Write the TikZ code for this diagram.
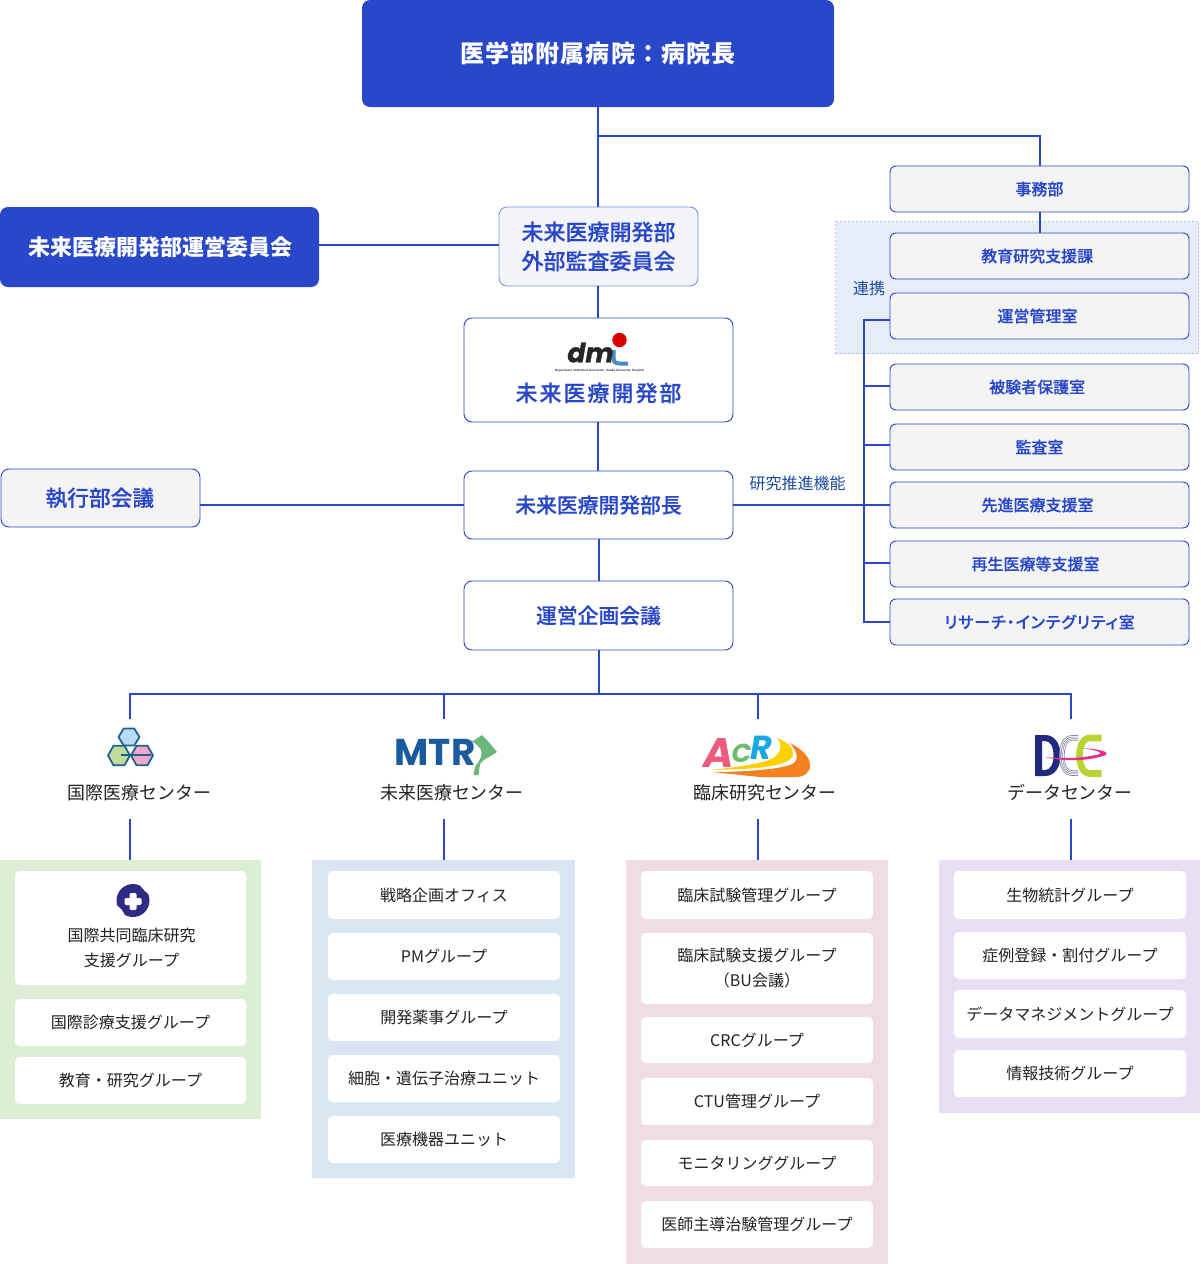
\documentclass[tikz,border=0pt]{standalone}
\usepackage{fontspec}
\setmainfont{Noto Sans CJK JP}
\newfontfamily\jpmed[FakeBold=0.3]{Noto Sans CJK JP Medium}
\newfontfamily\latinf{Liberation Sans}
\newfontfamily\heavyf{Poppins}
\definecolor{mainblue}{HTML}{2947C9}
\definecolor{navylab}{HTML}{1D4A9E}
\definecolor{greybox}{HTML}{F4F4F4}
\definecolor{extbox}{HTML}{F3F5FA}
\definecolor{bandblue}{HTML}{E6EDF8}
\definecolor{pgreen}{HTML}{DCEFD4}
\definecolor{pblue}{HTML}{D9E5F2}
\definecolor{ppink}{HTML}{F0DCE3}
\definecolor{ppurple}{HTML}{E8DFF5}
\definecolor{inkdark}{HTML}{222222}
\definecolor{hexline}{HTML}{1F5F8F}
\newcommand{\fs}[2]{\fontsize{#1}{#2}\selectfont}
\newcommand{\bx}[6]{%
  \pgfmathsetmacro{\bw}{(#5-#3)*.75}\pgfmathsetmacro{\bh}{(#6-#4)*.75}%
  \pgfmathsetmacro{\cx}{(#5+#3)/2}\pgfmathsetmacro{\cy}{(#6+#4)/2}%
  \node[#1,minimum width=\bw pt,minimum height=\bh pt] (#2) at (\cx,\cy)}
\tikzset{
  basebox/.style={rounded corners=6pt,inner sep=0pt,outer sep=0pt,align=center,line width=.7pt},
  solidbox/.style={basebox,fill=mainblue,text=white,font=\bfseries\fs{18}{24}},
  whitebox/.style={basebox,draw=mainblue,fill=white,text=mainblue,font=\jpmed\fs{15.6}{20}},
  extcom/.style={basebox,draw=mainblue!60,fill=extbox,text=mainblue,font=\jpmed\fs{16.5}{21.8}},
  sidebox/.style={basebox,draw=mainblue,fill=greybox,text=mainblue,font=\jpmed\fs{16.3}{20}},
  rightbox/.style={basebox,rounded corners=4.5pt,draw=mainblue,fill=greybox,text=mainblue,font=\jpmed\fs{12}{16}},
  panelbox/.style={inner sep=0pt,outer sep=0pt},
  cardbox/.style={basebox,rounded corners=3.5pt,fill=white,text=inkdark,font=\fs{12}{18.75}},
  label/.style={inner sep=0pt,outer sep=0pt},
  centerlab/.style={label,text=inkdark,font=\fs{13.45}{18}},
  sidelab/.style={label,text=navylab,font=\fs{12}{16}},
  conn/.style={draw=mainblue,line width=1.5pt},
}
\begin{document}
\begin{tikzpicture}[x=.75pt,y=-.75pt]
\useasboundingbox (0,0) rectangle (1200,1264);
% liaison band
\bx{panelbox,fill=bandblue,draw=mainblue!35,dashed,dash pattern=on 1.5pt off 1.5pt,line width=.6pt}{band}{835.5}{221.5}{1198.5}{353.5}{};
% lower panels
\bx{panelbox,fill=pgreen}{pg}{0}{860}{261}{1119}{};
\bx{panelbox,fill=pblue}{pb}{312}{860}{575}{1178}{};
\bx{panelbox,fill=ppink}{pp}{626}{860}{888}{1264}{};
\bx{panelbox,fill=ppurple}{pu}{939}{860}{1200}{1113}{};
% top column
\bx{solidbox}{title}{362}{0}{834}{107}{\raisebox{.75pt}{\addfontfeature{LetterSpace=4.6}医学部附属病院：病院長}};
\bx{solidbox,font=\bfseries\fs{16.5}{22}}{steer}{0}{207}{319}{287}{\raisebox{.75pt}{未来医療開発部運営委員会}\kern-1.2pt};
\bx{extcom}{ext}{499}{207}{698}{286}{未来医療開発部\\外部監査委員会};
\bx{whitebox}{dmi}{464}{318}{733}{422}{};
\bx{whitebox}{chief}{464}{471}{733}{539}{\raisebox{-.75pt}{未来医療開発部長}};
\bx{whitebox}{plan}{464}{581}{733}{650}{\raisebox{-.75pt}{運営企画会議}};
\bx{sidebox}{exec}{1}{469}{200}{527}{執行部会議\kern1pt};
% right column
\bx{rightbox}{r1}{890}{166}{1189}{212}{事務部};
\bx{rightbox}{r2}{890}{233}{1189}{279}{教育研究支援課\kern3.5pt};
\bx{rightbox}{r3}{890}{293}{1189}{339}{運営管理室\kern3pt};
\bx{rightbox}{r4}{890}{364}{1189}{410}{被験者保護室\kern3.5pt};
\bx{rightbox}{r5}{890}{424}{1189}{470}{監査室};
\bx{rightbox}{r6}{890}{482}{1189}{528}{先進医療支援室\kern3pt};
\bx{rightbox}{r7}{890}{541}{1189}{587}{再生医療等支援室\kern6pt};
\bx{rightbox}{r8}{890}{599}{1189}{645}{\addfontfeature{RawFeature=+palt,LetterSpace=6}リサーチ・インテグリティ室};
\node[sidelab] (renkei) at (869,288) {連携};
\node[sidelab] (suishin) at (797.5,483) {研究推進機能};
% dmi logo
\fill[red!85!black] (619.5,340) circle[radius=7.2];
\draw[color={rgb,255:red,74;green,134;blue,200},line width=3pt,line cap=butt] (613.5,350) -- (613.5,358) .. controls (613.5,362.5) and (616,363.5) .. (620,363.5) -- (628,363.5);
\node[label,font=\heavyf\bfseries\itshape\fs{20}{20},text=black!85] (dmtext) at (590.5,352.5) {\addfontfeature{FakeBold=1}dm};
\node[label,font=\latinf\bfseries\fs{2.3}{3},text=black!80] (dmsub) at (599.5,371) {Department of Medical Innovation, Osaka University Hospital};
\node[label,text=mainblue,font=\jpmed\fs{16.5}{20}] (dmname) at (598.5,393) {\addfontfeature{LetterSpace=9}未来医療開発部};
% connectors
\coordinate (jr) at (1040,136);
\coordinate (j0) at (598,136);
\draw[conn] (title.south) -- (title.south |- ext.north);
\draw[conn] (j0) -- (jr) -- (jr |- r1.north);
\draw[conn] (jr |- r1.south) -- (jr |- r2.north);
\draw[conn] (steer.east |- 0,245) -- (ext.west |- 0,245);
\draw[conn] (title.south |- ext.south) -- (title.south |- dmi.north);
\draw[conn] (title.south |- dmi.south) -- (title.south |- chief.north);
\draw[conn] (chief.south) -- (plan.north);
\draw[conn] (exec.east |- 0,505) -- (chief.west |- 0,505);
\draw[conn] (chief.east |- 0,505) -- (r6.west |- 0,505);
\coordinate (v1) at (863.5,320);
\coordinate (v2) at (863.5,622);
\draw[conn] (r3.west |- v1) -- (v1) -- (v2) -- (r8.west |- v2);
\foreach \ty/\tn in {386/r4,445/r5,563/r7} \draw[conn] (863.5,\ty) -- (\tn.west |- 0,\ty);
% distribution bar
\coordinate (barm) at (598.5,694);
\coordinate (bar1) at (130,694);
\coordinate (bar2) at (443.5,694);
\coordinate (bar3) at (757.5,694);
\coordinate (bar4) at (1070.5,694);
\coordinate (dn1) at (130,719);
\coordinate (dn2) at (443.5,719);
\coordinate (dn3) at (757.5,719);
\coordinate (dn4) at (1070.5,719);
\coordinate (up1) at (130,819);
\coordinate (up2) at (443.5,819);
\coordinate (up3) at (757.5,819);
\coordinate (up4) at (1070.5,819);
\draw[conn] (plan.south) -- (barm);
\draw[conn] (dn1) -- (bar1) -- (bar4) -- (dn4);
\draw[conn] (bar2) -- (dn2);
\draw[conn] (bar3) -- (dn3);
\draw[conn] (up1) -- (up1 |- pg.north);
\draw[conn] (up2) -- (up2 |- pb.north);
\draw[conn] (up3) -- (up3 |- pp.north);
\draw[conn] (up4) -- (up4 |- pu.north);
% centre labels
\node[centerlab] (c1) at (139.5,792.7) {国際医療センター};
\node[centerlab] (c2) at (452,792.7) {未来医療センター};
\node[centerlab] (c3) at (765,792.7) {臨床研究センター};
\node[centerlab] (c4) at (1070,792.7) {データセンター};
% hexagon logo
\foreach \hx/\hy/\hc/\hr/\ha in {129/737/B9DCF5/10.5/8.5,119/755.5/C0DC9A/11/9.8,142/755.5/F2A8C8/11/9.8}{
  \definecolor{hexfill}{HTML}{\hc}
  \draw[hexline,fill=hexfill,line width=1.3pt,line join=round] (\hx-\hr,\hy) -- (\hx-\hr/2,\hy-\ha) -- (\hx+\hr/2,\hy-\ha) -- (\hx+\hr,\hy) -- (\hx+\hr/2,\hy+\ha) -- (\hx-\hr/2,\hy+\ha) -- cycle;
}
\draw[hexline,line width=1.2pt] (121,755) -- (151,755);
% MTR logo
\fill[color={rgb,255:red,108;green,184;blue,124}] (465,738.5) -- (473,741) -- (482,735) .. controls (488,741) and (493,747) .. (497,752) -- (489,757) .. controls (485,759) and (482,761) .. (480,764) -- (478.5,775) -- (473.5,775) -- (475,767) .. controls (480,760) and (483,755) .. (481,750) .. controls (479,745) and (472,741) .. (465,738.5) -- cycle;
\node[label,font=\heavyf\bfseries\fs{28}{28},text={rgb,255:red,26;green,90;blue,158}] (mtr) at (435,752) {MTR};
% ACR logo
\fill[color={rgb,255:red,255;green,208;blue,0}] (710,770) .. controls (740,767) and (765,763) .. (773,758) .. controls (781,753) and (783,745) .. (777,738) .. controls (788,742) and (794,748) .. (793,755) .. controls (791,763) and (775,767) .. (743,769) -- cycle;
\fill[color={rgb,255:red,245;green,128;blue,31}] (712,772) .. controls (740,772) and (775,770) .. (790,765) .. controls (798,762) and (800,755) .. (790,743) .. controls (802,749) and (810,757) .. (810,765) .. controls (810,773) and (804,777) .. (795,777) -- (760,777) -- cycle;
\node[label,font=\heavyf\bfseries\itshape\fs{31}{32},text={rgb,255:red,237;green,90;blue,126}] (acra) at (718.5,752.5) {A};
\node[label,font=\heavyf\bfseries\itshape\fs{19.5}{20},text={rgb,255:red,108;green,189;blue,108}] (acrc) at (741.5,753.5) {C};
\node[label,font=\heavyf\bfseries\itshape\fs{25}{28},text={rgb,255:red,27;green,168;blue,224}] (acrr) at (761,747.5) {R};
% DCC logo
\definecolor{dnavy}{HTML}{1F2A80}
\definecolor{dlime}{HTML}{B8D433}
\fill[dnavy,even odd rule] (1035,735) -- (1045,735) .. controls (1055,735) and (1060.5,744) .. (1060.5,755.5) .. controls (1060.5,767) and (1055,776) .. (1045,776) -- (1035,776) -- cycle (1042,741) -- (1042,770) -- (1045,770) .. controls (1050.5,770) and (1053.5,764) .. (1053.5,755.5) .. controls (1053.5,747) and (1050.5,741) .. (1045,741) -- cycle;
\foreach \dd in {0,1.6,3.2,4.8}{
  \draw[dnavy!50!gray!70,line width=.5pt] (1078,735.5+\dd) -- (1072,735.5+\dd) .. controls (1063+\dd,735.5+\dd) and (1059.5+\dd,745) .. (1059.5+\dd,755.5) .. controls (1059.5+\dd,766) and (1063+\dd,775.5-\dd) .. (1072,775.5-\dd) -- (1078,775.5-\dd);
}
\draw[dlime,line width=5pt] (1101.5,738) -- (1090,738) .. controls (1083,738) and (1079.5,746) .. (1079.5,755.5) .. controls (1079.5,765) and (1083,773.5) .. (1090,773.5) -- (1101.5,773.5);
\fill[color={rgb,255:red,232;green,48;blue,138}] (1045,757) .. controls (1065,762) and (1090,761) .. (1106,755) .. controls (1110,752) and (1100,749) .. (1082,748) .. controls (1095,750) and (1102,752) .. (1100,754) .. controls (1085,758) and (1065,759) .. (1045,757) -- cycle;
% green cards
\bx{cardbox}{g1}{15}{871}{246}{985}{};
\bx{cardbox}{g2}{15}{999}{246}{1046}{国際診療支援グループ};
\bx{cardbox}{g3}{15}{1057}{246}{1104}{教育・研究グループ};
\fill[color={rgb,255:red,47;green,42;blue,133}] (133,900.5) circle[radius=16.5];
\fill[white,rounded corners=1pt] (129.5,893) rectangle (136.5,910);
\fill[white,rounded corners=1pt] (124.5,898) rectangle (141.5,905);
\fill[white] (139,884) .. controls (143,889) and (146,893) .. (150.5,895) .. controls (150,890) and (146,885) .. (139,884) -- cycle;
\fill[white] (116,905) .. controls (121,908) and (124,912) .. (125,916.5) .. controls (120,914.5) and (117,910) .. (116,905) -- cycle;
\node[label,text=inkdark,font=\fs{12}{18.75},align=center] (g1t) at (131.5,948) {国際共同臨床研究\\支援グループ};
% blue cards
\bx{cardbox}{b1}{328}{871}{560}{919}{戦略企画オフィス};
\bx{cardbox}{b2}{328}{933}{560}{980}{PMグループ};
\bx{cardbox}{b3}{328}{994}{560}{1041}{開発薬事グループ};
\bx{cardbox}{b4}{328}{1055}{560}{1102}{細胞・遺伝子治療ユニット};
\bx{cardbox}{b5}{328}{1116}{560}{1163}{医療機器ユニット};
% pink cards
\bx{cardbox}{p1}{641}{871}{873}{919}{臨床試験管理グループ};
\bx{cardbox}{p2}{641}{933}{873}{1004}{臨床試験支援グループ\\（BU会議）};
\bx{cardbox}{p3}{641}{1017}{873}{1063}{CRCグループ};
\bx{cardbox}{p4}{641}{1078}{873}{1125}{CTU管理グループ};
\bx{cardbox}{p5}{641}{1140}{873}{1186}{モニタリンググループ};
\bx{cardbox}{p6}{641}{1201}{873}{1248}{医師主導治験管理グループ};
% purple cards
\bx{cardbox}{u1}{954}{871}{1186}{919}{生物統計グループ};
\bx{cardbox}{u2}{954}{932}{1186}{979}{症例登録・割付グループ};
\bx{cardbox}{u3}{954}{990}{1186}{1038}{データマネジメントグループ};
\bx{cardbox}{u4}{954}{1050}{1186}{1097}{情報技術グループ};
\end{tikzpicture}
\end{document}
